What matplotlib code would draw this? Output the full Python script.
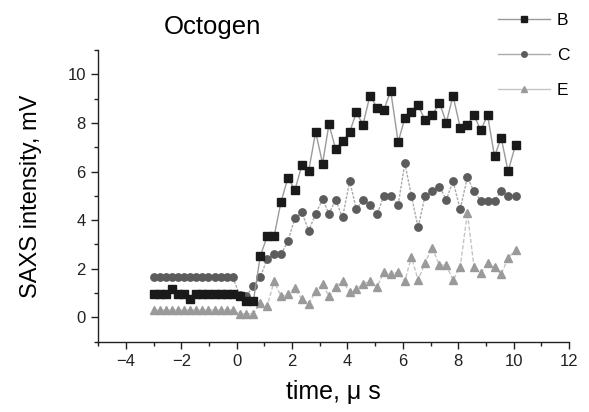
import matplotlib
matplotlib.use("Agg")
import matplotlib.pyplot as plt
from matplotlib.ticker import MultipleLocator

plt.rcParams['font.family'] = ['Liberation Sans', 'DejaVu Sans']

# time grid (microseconds)
t_pre = [-3.0, -2.78, -2.56, -2.34, -2.12, -1.90, -1.68, -1.46, -1.24, -1.02,
         -0.80, -0.58, -0.36, -0.14]
t_post = [0.10, 0.35, 0.60, 0.85, 1.10, 1.35, 1.60, 1.85, 2.10, 2.35,
          2.60, 2.85, 3.10, 3.33, 3.57, 3.82, 4.08, 4.32, 4.56, 4.81,
          5.07, 5.31, 5.56, 5.83, 6.07, 6.31, 6.55, 6.80, 7.06, 7.32,
          7.57, 7.81, 8.07, 8.33, 8.57, 8.81, 9.06, 9.31, 9.55, 9.80, 10.07]
time = t_pre + t_post

B_vals = [0.96, 0.96, 0.96, 1.15, 0.96, 0.96, 0.75, 0.96, 0.96, 0.96,
          0.96, 0.96, 0.96, 0.96,
          0.88, 0.66, 0.66, 2.52, 3.34, 3.34, 4.76, 5.74, 5.24, 6.25,
          6.04, 7.63, 6.33, 7.94, 6.94, 7.24, 7.63, 8.43, 7.93, 9.12,
          8.63, 8.52, 9.32, 7.21, 8.20, 8.43, 8.73, 8.11, 8.32, 8.83,
          8.01, 9.12, 7.81, 7.93, 8.32, 7.70, 8.32, 6.62, 7.39, 6.01, 7.10]
C_vals = [1.65, 1.65, 1.65, 1.65, 1.65, 1.65, 1.65, 1.65, 1.65, 1.65,
          1.65, 1.65, 1.65, 1.65,
          0.94, 0.89, 1.28, 1.65, 2.41, 2.59, 2.59, 3.14, 4.08, 4.32,
          3.56, 4.27, 4.85, 4.27, 4.84, 4.11, 5.60, 4.45, 4.84, 4.63,
          4.25, 5.00, 5.00, 4.63, 6.34, 5.00, 3.70, 5.00, 5.18, 5.38,
          4.84, 5.60, 4.45, 5.76, 5.18, 4.80, 4.80, 4.80, 5.21, 5.00, 5.00]
E_vals = [0.30, 0.30, 0.30, 0.30, 0.30, 0.30, 0.30, 0.30, 0.30, 0.30,
          0.30, 0.30, 0.30, 0.30,
          0.15, 0.15, 0.15, 0.58, 0.47, 1.49, 0.87, 0.97, 1.19, 0.75,
          0.57, 1.07, 1.37, 0.87, 1.27, 1.49, 1.05, 1.15, 1.39, 1.49,
          1.25, 1.86, 1.77, 1.86, 1.49, 2.49, 1.53, 2.25, 2.87, 2.15,
          2.15, 1.53, 2.07, 4.29, 2.07, 1.83, 2.25, 2.07, 1.77, 2.45, 2.76]

series_names = ['B', 'C', 'E']

fig = plt.figure(figsize=(5.89, 4.12), dpi=100)
ax = fig.add_axes([98.3 / 589, 70.3 / 412, (569 - 98.3) / 589, (341.7 - 50) / 412])

ax.plot(time, B_vals, color='#9a9a9a', lw=1.0, ls='-', marker='s', ms=5.2,
        mfc='#1a1a1a', mec='#1a1a1a', label=series_names[0], zorder=3)
ax.plot(time, C_vals, color='#ababab', lw=1.0, ls=(0, (2, 1)), marker='o', ms=5.3,
        mfc='#5c5c5c', mec='#5c5c5c', label=series_names[1], zorder=2)
ax.plot(time, E_vals, color='#c4c4c4', lw=1.0, ls=(0, (3, 1.5)), marker='^', ms=5.3,
        mfc='#9a9a9a', mec='#9a9a9a', label=series_names[2], zorder=1)

ax.set_xlim(-5, 12)
ax.set_ylim(-1, 11)
ax.xaxis.set_minor_locator(MultipleLocator(1))
ax.yaxis.set_minor_locator(MultipleLocator(1))
ax.set_xticks([-4, -2, 0, 2, 4, 6, 8, 10, 12])
ax.set_yticks([0, 2, 4, 6, 8, 10])

for s in ['top', 'right']:
    ax.spines[s].set_visible(False)
for s in ['left', 'bottom']:
    ax.spines[s].set_linewidth(1.0)
    ax.spines[s].set_color('#222222')

ax.tick_params(which='major', direction='out', length=5, width=1, labelsize=12,
               colors='#222222', pad=4)
ax.tick_params(which='minor', direction='out', length=3, width=1, colors='#222222')

ax.set_xlabel('time, \u03bc s', fontsize=18, labelpad=8)
ax.set_ylabel('SAXS intensity, mV', fontsize=17, labelpad=18)

fig.text(212 / 589, 1 - 27 / 412, 'Octogen', fontsize=18.5, ha='center', va='center')

leg = fig.legend(loc='upper left', bbox_to_anchor=(498 / 589, 1 - 13 / 412),
                 frameon=False, fontsize=12.5, handlelength=3.0, handletextpad=0.4,
                 labelspacing=1.15, borderpad=0, borderaxespad=0, markerscale=0.75)
for h in leg.get_lines():
    h.set_linestyle('-')

fig.savefig('out.png', dpi=100)
